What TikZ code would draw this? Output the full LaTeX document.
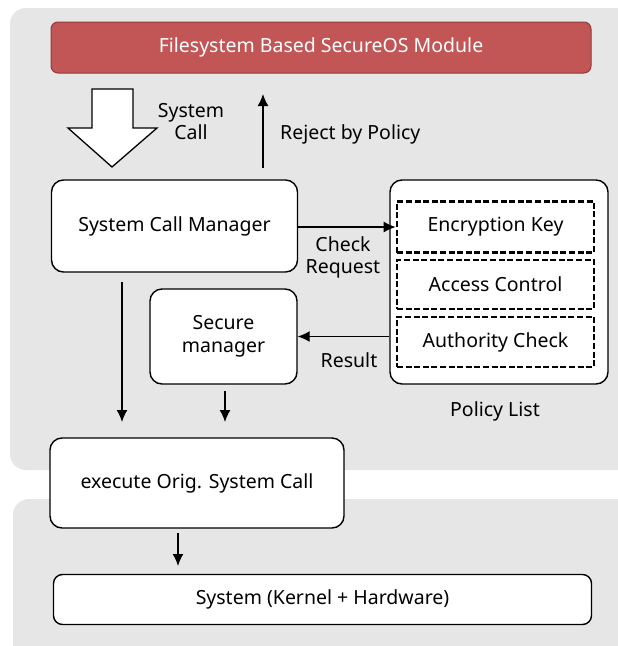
\documentclass[tikz,border=0pt]{standalone}
\usepackage{fontspec}
\setmainfont{Noto Sans}
\usetikzlibrary{arrows.meta}
\definecolor{panelgray}{HTML}{E6E6E6}
\definecolor{modred}{HTML}{C25555}
\definecolor{modredline}{HTML}{8F3A38}
\begin{document}
\begin{tikzpicture}[x=1pt,y=-1pt,
  font=\fontsize{19.5}{23}\selectfont,
  box/.style={draw, line width=1.4pt, rounded corners=12pt, fill=white,
    align=center, inner sep=0pt},
  dbox/.style={draw, line width=2.6pt, dash pattern=on 6pt off 2.6pt,
    fill=white, inner sep=0pt, minimum width=197pt, minimum height=50pt},
  arr/.style={-{Latex[length=12pt,width=11pt]}, line width=1.4pt},
  lbl/.style={align=center, inner sep=0pt}]
\path[use as bounding box] (0,0) rectangle (618,646);

% background panels
\begin{scope}
  \clip (0,0) rectangle (618,646);
  \fill[panelgray, rounded corners=16pt] (10,8) rectangle (660,470);
  \fill[panelgray, rounded corners=16pt] (13,499) rectangle (660,680);
\end{scope}

% module bar
\node[draw=modredline, fill=modred, line width=1pt, rounded corners=7pt,
  minimum width=540pt, minimum height=51pt, inner sep=0pt,
  text=white] (mod) at (321,47.5) {Filesystem Based SecureOS Module};

% incoming system call (hollow arrow)
\draw[line width=1.3pt, fill=white, line join=miter]
  (92,89) -- (133,89) -- (133,128) -- (157,128) -- (112,167)
  -- (68,128) -- (92,128) -- cycle;
\node[lbl] (sc) at (191,122) {System\\[-1pt]Call};

% main boxes
\node[box, minimum width=246pt, minimum height=92pt] (scm) at (174.5,226) {System Call Manager};
\node[box, minimum width=218pt, minimum height=204pt] (pol) at (499,282) {};
\node[dbox, minimum height=51pt] (ek) at (495.5,227) {Encryption Key};
\node[dbox, minimum height=49pt] (ac) at (495.5,284.5) {Access Control};
\node[dbox, minimum height=50pt] (au) at (495.5,342) {Authority Check};
\node[lbl] (pll) at (495,411) {Policy List};
\node[box, minimum width=147pt, minimum height=95pt] (sm) at (223.5,336.5) {Secure\\manager};
\node[box, minimum width=294pt, minimum height=90pt] (ex) at (197,483) {execute Orig. System Call};
\node[box, rounded corners=9pt, minimum width=538pt, minimum height=50pt] (sys) at (322.5,599.5) {System (Kernel + Hardware)};

% reject path back to the module
\coordinate (rj0) at (263,168);
\coordinate (rj1) at (263,94);
\draw[arr] (rj0) -- (rj1);
\node[lbl, anchor=west] (rjl) at (280,134) {Reject by Policy};

% check request / result
\draw[arr] (scm.east |- ek) -- (ek.west);
\node[lbl] (crl) at (343,257) {Check\\[-1pt]Request};
\draw[arr] (pol.west |- sm) -- (sm.east);
\node[lbl] (rsl) at (349,360) {Result};

% downward flow
\coordinate (d1a) at (122,282);
\coordinate (d1b) at (122,422);
\draw[arr] (d1a) -- (d1b);
\coordinate (d2a) at (225,391);
\coordinate (d2b) at (225,422);
\draw[arr] (d2a) -- (d2b);
\coordinate (d3a) at (178,533);
\coordinate (d3b) at (178,566);
\draw[arr] (d3a) -- (d3b);
\end{tikzpicture}
\end{document}
